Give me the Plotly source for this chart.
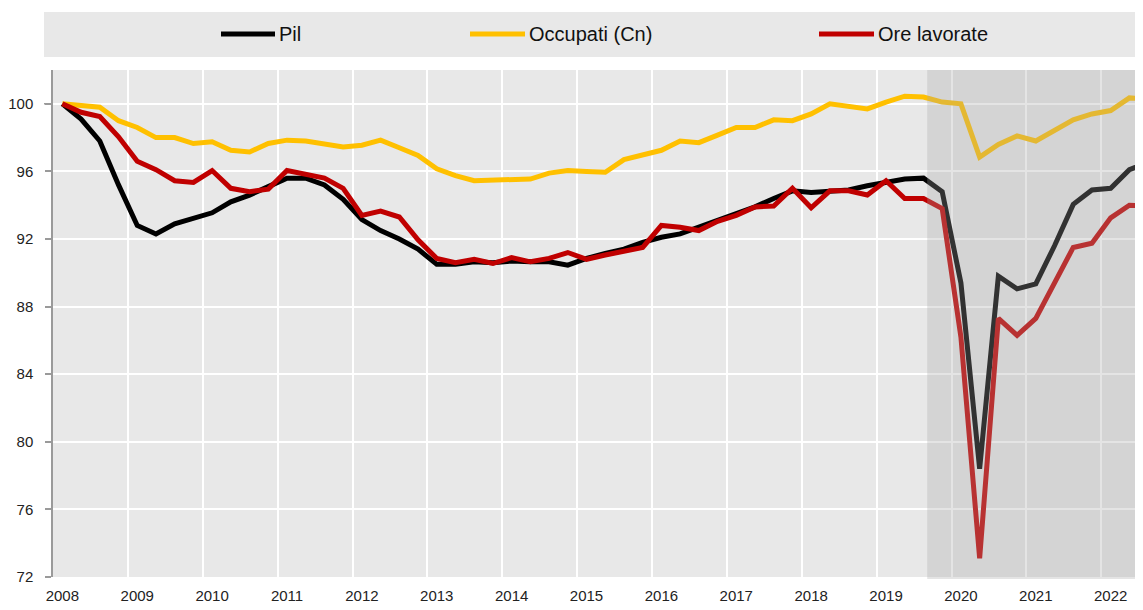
import plotly.graph_objects as go

# ---------------- data (quarterly index, 2008Q1 = 100) ----------------
years = list(range(2008, 2023))
quarters = [f"{y}Q{q}" for y in range(2008, 2023) for q in range(1, 5)][:59]

pil = [100, 99.1, 97.8, 95.2, 92.8, 92.3, 92.9, 93.25, 93.55, 94.2, 94.6, 95.1,
       95.6, 95.6, 95.2, 94.35, 93.15, 92.5, 92.0, 91.4, 90.5, 90.5, 90.65, 90.6,
       90.7, 90.65, 90.65, 90.45, 90.85, 91.15, 91.4, 91.8, 92.1, 92.3, 92.7, 93.05,
       93.45, 93.9, 94.4, 94.85, 94.75, 94.8, 94.9, 95.15, 95.35, 95.55, 95.6, 94.8,
       89.4, 78.4, 89.8, 89.05, 89.35, 91.6, 94.05, 94.9, 95.0, 96.1, 96.55]

occupati = [100, 99.9, 99.8, 99.0, 98.6, 98.0, 98.0, 97.65, 97.75, 97.25, 97.15, 97.65,
            97.85, 97.8, 97.65, 97.45, 97.55, 97.85, 97.4, 96.95, 96.15, 95.75, 95.45, 95.5,
            95.55, 95.55, 95.9, 96.05, 96.0, 95.95, 96.7, 96.95, 97.25, 97.8, 97.7, 98.15,
            98.6, 98.6, 99.05, 99.0, 99.4, 100.0, 99.85, 99.7, 100.1, 100.45, 100.4, 100.1,
            100.0, 96.85, 97.6, 98.1, 97.8, 98.4, 99.05, 99.4, 99.6, 100.35, 100.3]

ore = [100, 99.5, 99.25, 98.05, 96.6, 96.1, 95.45, 95.35, 96.05, 95.0, 94.8, 94.95,
       96.05, 95.85, 95.6, 95.0, 93.4, 93.65, 93.3, 91.95, 90.85, 90.6, 90.8, 90.55,
       90.9, 90.65, 90.85, 91.2, 90.8, 91.05, 91.3, 91.5, 92.8, 92.7, 92.5, 93.05,
       93.4, 93.9, 93.95, 95.0, 93.85, 94.85, 94.85, 94.6, 95.45, 94.4, 94.4, 93.8,
       86.2, 73.1, 87.3, 86.3, 87.3, 89.35, 91.5, 91.75, 93.25, 94.0, 93.95]

series_names = ["Pil", "Occupati (Cn)", "Ore lavorate"]
series_colors = ["#000000", "#FFC000", "#C00000"]
y_ticks = [72, 76, 80, 84, 88, 92, 96, 100]
shade_start = 46.2  # quarter index where the shaded period begins

# ---------------- figure ----------------
OFF = 8  # page body margin
W, H = 1143 - OFF, 610 - OFF
L, T = 53 - OFF, 70 - OFF
R = 0
B = H - (577 - OFF)
PW, PH = W - L - R, H - T - B

def px_x(p):  # page pixel -> paper
    return (p - OFF - L) / PW

def px_y(p):
    return (H - B - (p - OFF)) / PH

FONT = "Liberation Sans, Arial, sans-serif"

x_idx = list(range(len(quarters)))
fig = go.Figure()
for name, vals, col in zip(series_names, [pil, occupati, ore], series_colors):
    fig.add_trace(go.Scatter(x=x_idx[:len(vals)], y=vals, mode="lines", name=name,
                             line=dict(color=col, width=5), showlegend=False,
                             hovertext=quarters))

shapes = []
# reference line at 100
shapes.append(dict(type="line", xref="paper", yref="y", x0=px_x(44), x1=1, y0=100, y1=100,
                   line=dict(color="#9a9a9a", width=1.5), layer="below"))
# shaded period
shapes.append(dict(type="rect", xref="x", yref="paper", x0=shade_start, x1=60, y0=-0.004, y1=1,
                   fillcolor="rgba(167,167,167,0.3)", line=dict(width=0), layer="above"))
# legend background
shapes.append(dict(type="rect", xref="paper", yref="paper", x0=px_x(44), x1=px_x(1160),
                   y0=px_y(57), y1=px_y(12), fillcolor="#e8e8e8", line=dict(width=0)))

annotations = []
leg_x = [(221, 275), (470, 525), (819, 874)]
leg_y = 34
for (a, b), name, col in zip(leg_x, series_names, series_colors):
    shapes.append(dict(type="line", xref="paper", yref="paper", x0=px_x(a), x1=px_x(b),
                       y0=px_y(leg_y), y1=px_y(leg_y), line=dict(color=col, width=5)))
    annotations.append(dict(xref="paper", yref="paper", x=px_x(b + 2), y=px_y(leg_y),
                            text=name, showarrow=False, xanchor="left", yanchor="middle",
                            font=dict(family=FONT, size=20, color="#111111")))

fig.update_layout(
    width=W, height=H,
    margin=dict(l=L, r=R, t=T, b=B, pad=0),
    paper_bgcolor="white", plot_bgcolor="#e8e8e8",
    shapes=shapes, annotations=annotations,
    showlegend=False,
    xaxis=dict(range=[-0.5, -0.5 + PW / 18.72], tickmode="array",
               tickvals=[4 * i for i in range(len(years))], ticktext=[str(y) for y in years],
               showgrid=False, zeroline=False, showline=False, ticks="",
               ticklabelstandoff=8,
               tickfont=dict(family=FONT, size=15, color="#222222"),
               minor=dict(tickmode="linear", tick0=-0.5, dtick=4, showgrid=True,
                          gridcolor="white", gridwidth=2, ticks="")),
    yaxis=dict(range=[72, 102], tickmode="array", tickvals=y_ticks,
               showgrid=True, gridcolor="white", gridwidth=2, zeroline=False,
               showline=True, linecolor="#9a9a9a", linewidth=1.5,
               ticks="outside", ticklen=6, tickcolor="#9a9a9a", tickwidth=1.5,
               ticklabelstandoff=9,
               tickfont=dict(family=FONT, size=15, color="#222222")),
)

fig.write_html("out.html")
